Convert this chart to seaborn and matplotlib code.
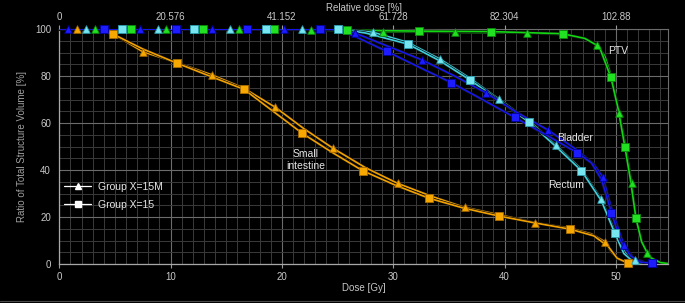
import matplotlib
matplotlib.use("Agg")
import matplotlib.pyplot as plt
import matplotlib.patheffects as pe
from matplotlib.lines import Line2D
from matplotlib.ticker import MultipleLocator
import seaborn as sns

# ---------- data ----------
# Small intestine (orange)
si_15m_dose = [0, 1.6, 3.8, 5.5, 7.5, 10.5, 13.7, 16.5, 19.4, 22.0, 24.6, 27.5, 30.4, 33.5,
               36.4, 39.5, 42.7, 45.8, 47.8, 49.0, 49.6, 50.3, 51.2, 52.4]
si_15m_vol = [100, 100, 99.7, 96.0, 90.3, 85.8, 80.5, 75.0, 66.7, 57.5, 49.2, 41.0, 34.3, 28.7,
              24.1, 21.0, 17.6, 15.3, 12.8, 9.5, 5.0, 1.8, 0.5, 0]
si_15m_mk_dose = [1.6, 7.5, 13.7, 19.4, 24.6, 30.4, 36.4, 42.7, 49.0]
si_15m_mk_vol = [100, 90.3, 80.5, 66.7, 49.2, 34.3, 24.1, 17.6, 9.5]

si_15_dose = [0, 3.5, 4.8, 7.5, 10.6, 13.5, 16.6, 19.2, 21.8, 24.5, 27.25, 30.2, 33.2, 36.3,
              39.5, 42.7, 45.9, 48.0, 49.3, 50.1, 51.1, 52.3]
si_15_vol = [100, 99.8, 97.9, 91.5, 85.4, 80.0, 74.3, 65.0, 55.7, 47.5, 39.7, 33.5, 28.0, 23.8,
             20.4, 17.5, 14.8, 12.0, 7.5, 2.5, 0.3, 0]
si_15_mk_dose = [4.8, 10.6, 16.6, 21.8, 27.25, 33.2, 39.5, 45.9, 51.1]
si_15_mk_vol = [97.9, 85.4, 74.3, 55.7, 39.7, 28.0, 20.4, 14.8, 0.3]

# PTV (green)
ptv_15m_dose = [0, 3.2, 9.6, 16.1, 22.6, 29.05, 35.5, 42.0, 45.5, 47.3, 48.3, 49.0, 49.6, 50.3,
                50.9, 51.4, 51.8, 52.3, 52.8, 53.5, 54.67]
ptv_15m_vol = [100, 100, 100, 100, 99.6, 98.9, 98.6, 98.4, 97.6, 95.8, 93.2, 88.5, 79.5, 64.1,
               49.5, 34.3, 20.0, 10.0, 4.5, 1.0, 0.3]
ptv_15m_mk_dose = [3.2, 9.6, 16.1, 22.6, 29.05, 35.5, 42.0, 48.3, 50.3, 51.4, 52.8]
ptv_15m_mk_vol = [100, 100, 100, 99.6, 98.9, 98.6, 98.4, 93.2, 64.1, 34.3, 4.5]

ptv_15_dose = [0, 6.4, 19.3, 25.8, 32.3, 38.8, 45.2, 47.2, 48.5, 49.55, 50.2, 50.8, 51.3, 51.8,
               52.3, 53.0, 54.0, 54.67]
ptv_15_vol = [100, 100, 100, 99.5, 99.1, 98.9, 98.0, 96.0, 92.5, 79.4, 66.0, 49.9, 36.0, 19.4,
              9.5, 3.0, 0.6, 0.2]
ptv_15_mk_dose = [6.4, 12.9, 19.3, 25.8, 32.3, 38.8, 45.2, 49.55, 50.8, 51.8]
ptv_15_mk_vol = [100, 100, 100, 99.5, 99.1, 98.9, 98.0, 79.4, 49.9, 19.4]

# Rectum (cyan)
rec_15m_dose = [0, 25.5, 28.2, 31.3, 34.2, 36.9, 39.5, 42.2, 44.6, 46.9, 48.7, 49.9, 50.8, 51.7, 52.6]
rec_15m_vol = [100, 99.9, 98.6, 94.3, 87.2, 79.0, 70.1, 61.0, 50.6, 40.3, 27.5, 14.0, 5.0, 1.7, 0.3]
rec_15m_mk_dose = [2.4, 8.9, 15.3, 21.8, 28.2, 34.2, 39.5, 44.6, 48.7, 51.7]
rec_15m_mk_vol = [100, 100, 100, 100, 98.6, 87.2, 70.1, 50.6, 27.5, 1.7]

rec_15_dose = [0, 25.0, 27.5, 31.3, 34.2, 36.9, 39.5, 42.2, 44.6, 46.9, 48.7, 49.9, 50.7, 51.5, 52.4]
rec_15_vol = [100, 100, 98.3, 93.6, 86.4, 78.3, 69.6, 60.3, 50.0, 39.7, 26.8, 13.1, 4.5, 1.2, 0.2]
rec_15_mk_dose = [5.6, 12.1, 18.6, 25.0, 31.3, 36.9, 42.2, 46.9, 49.9]
rec_15_mk_vol = [100, 100, 100, 100, 93.6, 78.3, 60.3, 39.7, 13.1]

# Bladder (blue)
bla_15m_dose = [0, 24.5, 26.6, 29.6, 32.6, 35.5, 38.3, 41.1, 43.9, 46.5, 48.0, 48.8, 49.7, 50.7,
                51.6, 52.6, 53.3]
bla_15m_vol = [100, 99.8, 98.2, 92.5, 86.8, 80.0, 72.9, 64.5, 57.0, 48.5, 42.5, 37.1, 22.0, 8.1,
               2.5, 0.7, 0.3]
bla_15m_mk_dose = [0.75, 7.25, 13.7, 20.2, 26.6, 32.6, 38.3, 43.9, 48.8, 50.7]
bla_15m_mk_vol = [100, 100, 100, 100, 98.2, 86.8, 72.9, 57.0, 37.1, 8.1]

bla_15_dose = [0, 24.8, 26.5, 29.4, 32.3, 35.2, 38.0, 40.9, 43.7, 46.5, 47.8, 48.7, 49.6, 50.4,
               51.3, 52.2, 53.2]
bla_15_vol = [100, 99.8, 97.0, 90.5, 83.8, 77.2, 70.0, 62.4, 55.0, 47.4, 43.0, 36.0, 21.8, 10.0,
              3.5, 0.8, 0.3]
bla_15_mk_dose = [4.0, 10.5, 16.9, 23.4, 29.4, 35.2, 40.9, 46.5, 49.6, 53.2]
bla_15_mk_vol = [100, 100, 100, 100, 90.5, 77.2, 62.4, 47.4, 21.8, 0.3]

dose_ticks = [0, 10, 20, 30, 40, 50]
rel_tick_labels = ["0", "20.576", "41.152", "61.728", "82.304", "102.88"]
vol_ticks = [0, 20, 40, 60, 80, 100]
legend_labels = ["Group X=15M", "Group X=15"]

# (line colour, marker face, marker edge)
COLORS = {
    "si": ("#f2a100", "#f7a800", "#a86a00"),
    "ptv": ("#12d812", "#22e022", "#0a8a0a"),
    "rec": ("#3fcfdc", "#78e6f0", "#2a9fb0"),
    "bla": ("#1616e8", "#1c1cff", "#0000a0"),
}

curves = [
    ("ptv", ptv_15m_dose, ptv_15m_vol, ptv_15m_mk_dose, ptv_15m_mk_vol, "^"),
    ("ptv", ptv_15_dose, ptv_15_vol, ptv_15_mk_dose, ptv_15_mk_vol, "s"),
    ("si", si_15m_dose, si_15m_vol, si_15m_mk_dose, si_15m_mk_vol, "^"),
    ("si", si_15_dose, si_15_vol, si_15_mk_dose, si_15_mk_vol, "s"),
    ("rec", rec_15m_dose, rec_15m_vol, rec_15m_mk_dose, rec_15m_mk_vol, "^"),
    ("rec", rec_15_dose, rec_15_vol, rec_15_mk_dose, rec_15_mk_vol, "s"),
    ("bla", bla_15m_dose, bla_15m_vol, bla_15m_mk_dose, bla_15m_mk_vol, "^"),
    ("bla", bla_15_dose, bla_15_vol, bla_15_mk_dose, bla_15_mk_vol, "s"),
]

# ---------- figure ----------
sns.set_theme(style="dark")
plt.rcParams["font.family"] = ["Liberation Sans", "DejaVu Sans"]
TICK_C = "#c8c8c8"

fig = plt.figure(figsize=(6.85, 3.03), dpi=100, facecolor="black")
ax = fig.add_axes([59.3 / 685, 39 / 303, 608.7 / 685, 235 / 303], facecolor="black")

outline = [pe.Stroke(linewidth=2.2, foreground="#101010"), pe.Normal()]
for key, xd, yd, mx, my, mk in curves:
    line_c, face_c, edge_c = COLORS[key]
    sns.lineplot(x=xd, y=yd, sort=False, estimator=None, color=line_c,
                 linewidth=1.2, ax=ax, zorder=3)
    ax.lines[-1].set_path_effects(outline)
    sns.scatterplot(x=mx, y=my, marker=mk, s=30 if mk == "^" else 26,
                    color=face_c, edgecolor=edge_c, linewidth=0.6,
                    ax=ax, zorder=4, clip_on=False)

ax.set_xlim(0, 54.675)
ax.set_ylim(0, 100)

ax.xaxis.set_major_locator(MultipleLocator(10))
ax.xaxis.set_minor_locator(MultipleLocator(1))
ax.yaxis.set_major_locator(MultipleLocator(20))
ax.yaxis.set_minor_locator(MultipleLocator(5))
ax.grid(which="major", color="#6c6c6c", linewidth=0.8)
ax.grid(which="minor", color="#3a3a3a", linewidth=0.7)
ax.set_axisbelow(True)

ax.set_xticks(dose_ticks)
ax.set_yticks(vol_ticks)
ax.tick_params(which="major", direction="out", length=3, width=0.8, color="#9a9a9a",
               labelsize=7, labelcolor=TICK_C, pad=3)
ax.tick_params(which="minor", length=0)
for side in ["left", "bottom"]:
    ax.spines[side].set_color("#a8a8a8")
    ax.spines[side].set_linewidth(0.9)
for side in ["top", "right"]:
    ax.spines[side].set_color("#6c6c6c")
    ax.spines[side].set_linewidth(0.8)

ax.set_xlabel("Dose [Gy]", fontsize=7, color=TICK_C, labelpad=0.5)
ax.set_ylabel("Ratio of Total Structure Volume [%]", fontsize=7, color="#a0a0a0", labelpad=6)

# top axis: relative dose
top = ax.twiny()
top.set_xlim(ax.get_xlim())
top.set_xticks(dose_ticks)
top.set_xticklabels(rel_tick_labels)
top.tick_params(direction="out", length=3, width=0.8, color="#9a9a9a",
                labelsize=7, labelcolor=TICK_C, pad=2)
top.set_xlabel("Relative dose [%]", fontsize=7, color=TICK_C, labelpad=1)
top.grid(False)
for s in top.spines.values():
    s.set_visible(False)

# structure labels
TXT_C = "#e6e6e6"
ax.text(49.3, 90.5, "PTV", fontsize=7.5, color=TXT_C, ha="left", va="center")
ax.text(46.3, 53.8, "Bladder", fontsize=7.5, color=TXT_C, ha="center", va="center")
ax.text(45.5, 33.8, "Rectum", fontsize=7.5, color=TXT_C, ha="center", va="center")
ax.text(22.1, 44.3, "Small\nintestine", fontsize=7.5, color=TXT_C, ha="center",
        va="center", linespacing=1.2)

# legend
handles = [
    Line2D([], [], color="white", lw=0.9, marker="^", markersize=4.5),
    Line2D([], [], color="white", lw=0.9, marker="s", markersize=4.2),
]
leg = ax.legend(handles, legend_labels, loc="upper left", bbox_to_anchor=(0.008, 0.35),
                frameon=False, fontsize=7.5, labelcolor="#e6e6e6", handlelength=2.6,
                handletextpad=0.6, labelspacing=0.75, borderpad=0, borderaxespad=0)

fig.add_artist(Line2D([0, 1], [0.006, 0.006], transform=fig.transFigure,
                      color="#4a4a4a", linewidth=0.8))

fig.savefig("out.png", dpi=100, facecolor="black")
